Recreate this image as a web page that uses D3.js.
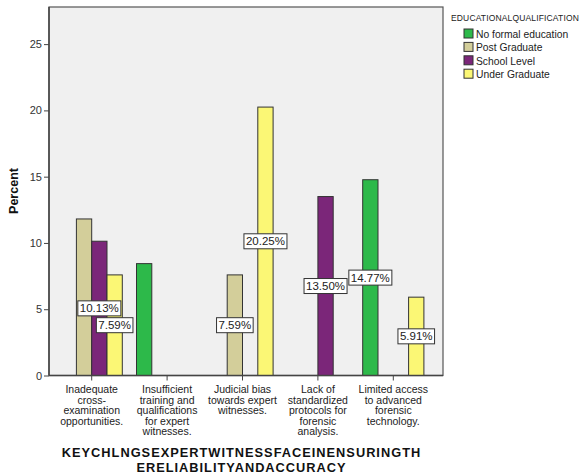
<!DOCTYPE html>
<html><head><meta charset="utf-8">
<script src="https://cdn.jsdelivr.net/npm/d3@7/dist/d3.min.js"></script>
<style>body{margin:0;background:#fff;} svg{display:block;font-family:"Liberation Sans",Arial,sans-serif;}</style>
</head><body>
<svg id="chart" width="584" height="474"></svg>
<script>
const categories = [
  ["Inadequate","cross-","examination","opportunities."],
  ["Insufficient","training and","qualifications","for expert","witnesses."],
  ["Judicial bias","towards expert","witnesses."],
  ["Lack of","standardized","protocols for","forensic","analysis."],
  ["Limited access","to advanced","forensic","technology."]
];
const series = ["No formal education","Post Graduate","School Level","Under Graduate"];
const colors = ["#2db94a","#d3ce9a","#7b2679","#fbf775"];
// values[category][series]; null = no bar
const noFormal  = [null, 8.44, null, null, 14.77];
const postGrad  = [11.81, null, 7.59, null, null];
const school    = [10.13, null, null, 13.50, null];
const underGrad = [7.59, null, 20.25, null, 5.91];
// which bars show a value label
const showLabel = [
  [false,false,true,true],
  [false,false,false,false],
  [false,true,false,true],
  [false,false,true,false],
  [true,false,false,true]
];
const yTicks = [0,5,10,15,20,25];
const xTitle = ["KEYCHLNGSEXPERTWITNESSFACEINENSURINGTH","ERELIABILITYANDACCURACY"];
const legendTitle = "EDUCATIONALQUALIFICATION";
const yTitle = "Percent";

const seriesVals = [noFormal, postGrad, school, underGrad];
const svg = d3.select("#chart");
const plot = {left:49, top:7, right:443, bottom:375.5};

const y = d3.scaleLinear().domain([0,27.8]).range([plot.bottom, plot.top]);
const x = d3.scaleBand().domain(d3.range(categories.length)).range([54,431]).paddingInner(0).paddingOuter(0);
const slotW = 15.3;
const xs = d3.scaleBand().domain(d3.range(series.length)).range([0, slotW*4]);

// plot background
svg.append("rect").attr("x",plot.left).attr("y",plot.top)
  .attr("width",plot.right-plot.left).attr("height",plot.bottom-plot.top)
  .attr("fill","#f0f0f0").attr("stroke","#555").attr("stroke-width",1.2);

// bars
const bars = [];
categories.forEach((c,ci)=>{
  seriesVals.forEach((arr,si)=>{
    if(arr[ci]!=null) bars.push({ci,si,v:arr[ci],lab:showLabel[ci][si]});
  });
});
const gx = ci => x(ci) + x.bandwidth()/2 - slotW*2;
svg.append("g").selectAll("rect").data(bars).join("rect")
  .attr("x",d=>gx(d.ci)+xs(d.si))
  .attr("y",d=>y(d.v))
  .attr("width",xs.bandwidth())
  .attr("height",d=>y(0)-y(d.v))
  .attr("fill",d=>colors[d.si])
  .attr("stroke","#333").attr("stroke-width",1);

// y axis
const yAxis = d3.axisLeft(y).tickValues(yTicks).tickSize(5).tickPadding(2);
const ga = svg.append("g").attr("transform",`translate(${plot.left},0)`).call(yAxis);
ga.select(".domain").remove();
ga.selectAll("line").attr("stroke","#444");
ga.selectAll("text").attr("font-size",11).attr("fill","#333").attr("font-family","Liberation Sans, Arial");
svg.append("line").attr("x1",plot.left).attr("x2",plot.left).attr("y1",plot.top).attr("y2",plot.bottom).attr("stroke","#444").attr("stroke-width",1.5);

// x axis
const xAxis = d3.axisBottom(x).tickSize(5).tickFormat("");
const gxa = svg.append("g").attr("transform",`translate(0,${plot.bottom})`).call(xAxis);
gxa.select(".domain").remove();
gxa.selectAll("line").attr("stroke","#444");
svg.append("line").attr("x1",plot.left).attr("x2",plot.right).attr("y1",plot.bottom).attr("y2",plot.bottom).attr("stroke","#444").attr("stroke-width",1.5);

// category labels
categories.forEach((lines,ci)=>{
  const t = svg.append("text").attr("text-anchor","middle").attr("font-size",10.5).attr("fill","#222");
  lines.forEach((ln,i)=>{
    t.append("tspan").attr("x",x(ci)+x.bandwidth()/2).attr("y",393+i*10.5).text(ln);
  });
});

// value labels
const lg = svg.append("g");
bars.filter(d=>d.lab).forEach(d=>{
  const cx = gx(d.ci)+xs(d.si)+xs.bandwidth()/2;
  const cy = y(d.v/2);
  const txt = d.v.toFixed(2)+"%";
  const t = lg.append("text").attr("x",cx).attr("y",cy+4).attr("text-anchor","middle")
    .attr("font-size",11.5).attr("fill","#222").text(txt);
  const bb = t.node().getBBox();
  lg.insert("rect","text").attr("x",bb.x-2).attr("y",cy-7.5).attr("width",bb.width+4).attr("height",15)
    .attr("fill","#fff").attr("stroke","#333").attr("stroke-width",1);
});
lg.selectAll("text").raise();

// y title
svg.append("text").attr("transform","translate(18,191) rotate(-90)").attr("text-anchor","middle")
  .attr("font-size",12.5).attr("font-weight","bold").attr("fill","#111").text(yTitle);

// x title
xTitle.forEach((ln,i)=>{
  svg.append("text").attr("x",241.5).attr("y",457+i*15).attr("text-anchor","middle")
    .attr("font-size",12.8).attr("font-weight","bold").attr("letter-spacing","1").attr("fill","#111").text(ln);
});

// legend
svg.append("text").attr("x",451).attr("y",21).attr("font-size",8.5).attr("letter-spacing","0.15")
  .attr("fill","#222").text(legendTitle);
const leg = svg.append("g").selectAll("g").data(series).join("g")
  .attr("transform",(d,i)=>`translate(464,${29+i*13.4})`);
leg.append("rect").attr("width",9).attr("height",9).attr("fill",(d,i)=>colors[i]).attr("stroke","#333");
leg.append("text").attr("x",12).attr("y",9).attr("font-size",10.3).attr("fill","#222").text(d=>d);
</script>
</body></html>
